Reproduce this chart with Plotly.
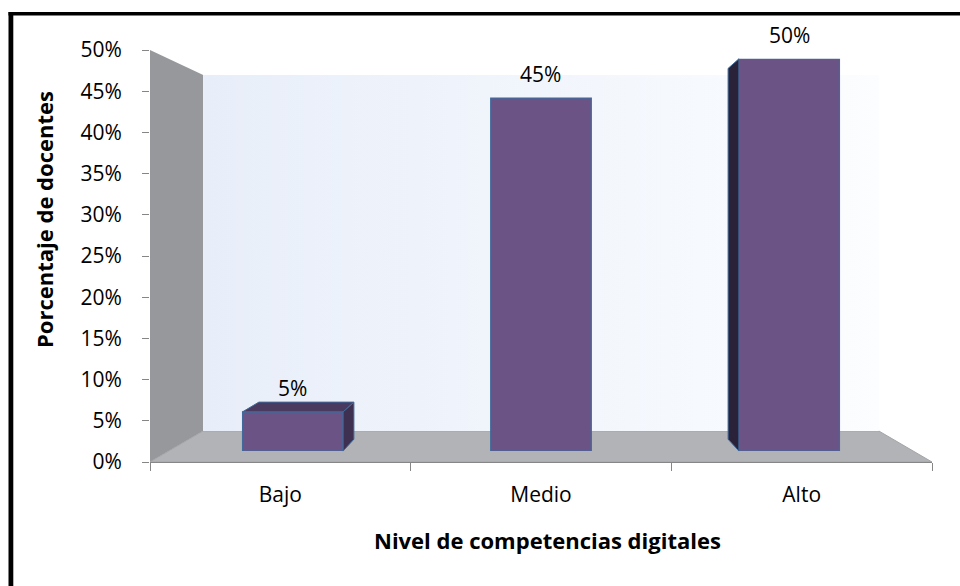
import plotly.graph_objects as go

# ---------------- data ----------------
categorias = ["Bajo", "Medio", "Alto"]
porcentajes = [5, 45, 50]
ticks_y = [0, 5, 10, 15, 20, 25, 30, 35, 40, 45, 50]
etiquetas_y = [f"{v}%" for v in ticks_y]
titulo_x = "Nivel de competencias digitales"
titulo_y = "Porcentaje de docentes"

# ---------------- geometry (pseudo-3D projection) ----------------
W, H = 960, 586
FX0, FX1 = 150, 932          # front plane x extent (px)
FY0, FY50 = 462, 50          # front plane y of 0% and 50% (px)
YMAX = 50
NCAT = len(categorias)
VP = (541, 234)              # vanishing point
K_BAR_FRONT = 0.048
K_BAR_BACK = 0.10
K_WALL = 0.136
BAR_W = 0.405
FONT = "Open Sans"


def front_px(xv, yv):
    px = FX0 + (xv + 0.5) / NCAT * (FX1 - FX0)
    py = FY0 - yv / YMAX * (FY0 - FY50)
    return px, py


def proj(px, py, k):
    return px + k * (VP[0] - px), py + k * (VP[1] - py)


def P(xv, yv, k):
    return proj(*front_px(xv, yv), k)


def to_paper(pt):
    return pt[0] / W, 1 - pt[1] / H


def to_main(pt):
    px, py = pt
    return (px - FX0) / (FX1 - FX0) * NCAT - 0.5, (FY0 - py) / (FY0 - FY50) * YMAX


def path_paper(pts):
    s = ""
    for i, p in enumerate(pts):
        x, y = to_paper(p)
        s += ("M" if i == 0 else "L") + f"{x:.5f},{y:.5f} "
    return s + "Z"


fig = go.Figure()

# back wall (gradient) on main axes
wall = [P(-0.5, 0, K_WALL), P(NCAT - 0.5, 0, K_WALL), P(NCAT - 0.5, YMAX, K_WALL), P(-0.5, YMAX, K_WALL)]
wx = [to_main(p)[0] for p in wall] + [to_main(wall[0])[0]]
wy = [to_main(p)[1] for p in wall] + [to_main(wall[0])[1]]
fig.add_trace(go.Scatter(
    x=wx, y=wy, mode="lines", fill="toself", line=dict(width=0),
    fillgradient=dict(type="horizontal", colorscale=[[0, "#e8eef9"], [1, "#fbfdff"]]),
    hoverinfo="skip", showlegend=False, xaxis="x", yaxis="y"))

# bars (front faces) on the bar plane axes
fig.add_trace(go.Bar(
    x=list(range(NCAT)), y=porcentajes, width=BAR_W,
    marker=dict(color="#6b5485", line=dict(color="#41699b", width=1.3)),
    hoverinfo="skip", showlegend=False, xaxis="x2", yaxis="y2"))

shapes = []
# left wall
shapes.append(dict(type="path", xref="paper", yref="paper", layer="below",
                   path=path_paper([P(-0.5, 0, 0), P(-0.5, YMAX, 0), P(-0.5, YMAX, K_WALL), P(-0.5, 0, K_WALL)]),
                   fillcolor="#97989c", line=dict(width=0)))
# floor
shapes.append(dict(type="path", xref="paper", yref="paper", layer="below",
                   path=path_paper([P(-0.5, 0, 0), P(NCAT - 0.5, 0, 0), P(NCAT - 0.5, 0, K_WALL), P(-0.5, 0, K_WALL)]),
                   fillcolor="#b1b3b6", line=dict(color="#a3a5a8", width=1)))

# bar side / top faces
for i, v in enumerate(porcentajes):
    xl, xr = i - BAR_W / 2, i + BAR_W / 2
    cx = front_px(i, 0)[0]
    if cx < VP[0] - 20:
        xs, col = xr, "#3e3050"
    elif cx > VP[0] + 20:
        xs, col = xl, "#2a2238"
    else:
        xs = None
    if xs is not None:
        shapes.append(dict(type="path", xref="paper", yref="paper", layer="above",
                           path=path_paper([P(xs, v, K_BAR_FRONT), P(xs, v, K_BAR_BACK),
                                            P(xs, 0, K_BAR_BACK), P(xs, 0, K_BAR_FRONT)]),
                           fillcolor=col, line=dict(color="#41699b", width=1)))
    if front_px(i, v)[1] > VP[1]:
        shapes.append(dict(type="path", xref="paper", yref="paper", layer="above",
                           path=path_paper([P(xl, v, K_BAR_FRONT), P(xr, v, K_BAR_FRONT),
                                            P(xr, v, K_BAR_BACK), P(xl, v, K_BAR_BACK)]),
                           fillcolor="#4a3a5f", line=dict(color="#41699b", width=1)))

# outer border (top and left)
shapes.append(dict(type="rect", xref="paper", yref="paper", x0=8.5 / W, x1=13.3 / W, y0=0, y1=1 - 12 / H,
                   fillcolor="black", line=dict(width=0), layer="above"))
shapes.append(dict(type="rect", xref="paper", yref="paper", x0=8.5 / W, x1=1, y0=1 - 15.5 / H, y1=1 - 12 / H,
                   fillcolor="black", line=dict(width=0), layer="above"))

annotations = []
for i, v in enumerate(porcentajes):
    annotations.append(dict(xref="x2", yref="y2", x=i, y=v, text=f"{v}%", showarrow=False,
                            yshift=24, yanchor="middle", font=dict(family=FONT, size=21, color="black")))
annotations.append(dict(xref="paper", yref="paper", x=547 / W, y=1 - 540 / H, text=f"<b>{titulo_x}</b>",
                        showarrow=False, xanchor="center", yanchor="middle",
                        font=dict(family=FONT, size=22, color="black")))
annotations.append(dict(xref="paper", yref="paper", x=44 / W, y=1 - 220 / H, text=f"<b>{titulo_y}</b>",
                        showarrow=False, textangle=-90, xanchor="center", yanchor="middle",
                        font=dict(family=FONT, size=22, color="black")))

b0 = P(-0.5, 0, K_BAR_FRONT)
b1 = P(NCAT - 0.5, YMAX, K_BAR_FRONT)

fig.update_layout(
    width=W, height=H, margin=dict(l=0, r=0, t=0, b=0, pad=0, autoexpand=False),
    paper_bgcolor="white", plot_bgcolor="rgba(0,0,0,0)",
    showlegend=False, hovermode=False,
    font=dict(family=FONT, color="black"),
    shapes=shapes, annotations=annotations,
    xaxis=dict(domain=[FX0 / W, FX1 / W], range=[-0.5, NCAT - 0.5], anchor="y", automargin=False,
               tickmode="array", tickvals=list(range(NCAT)), ticktext=categorias, ticks="",
               showline=True, linecolor="#868686", linewidth=1, showgrid=False, zeroline=False,
               minor=dict(ticks="outside", tickvals=[k - 0.5 for k in range(NCAT + 1)],
                          ticklen=8, tickcolor="#868686", tickwidth=1, showgrid=False),
               tickfont=dict(family=FONT, size=21, color="black"), ticklabelstandoff=14),
    yaxis=dict(domain=[1 - FY0 / H, 1 - FY50 / H], range=[0, YMAX], anchor="x", automargin=False,
               tickmode="array", tickvals=ticks_y, ticktext=etiquetas_y,
               ticks="outside", ticklen=7, tickcolor="#868686", tickwidth=1,
               showline=False, showgrid=False, zeroline=False,
               tickfont=dict(family=FONT, size=21, color="black"), ticklabelstandoff=16),
    xaxis2=dict(domain=[b0[0] / W, b1[0] / W], range=[-0.5, NCAT - 0.5], anchor="y2", visible=False),
    yaxis2=dict(domain=[1 - b0[1] / H, 1 - b1[1] / H], range=[0, YMAX], anchor="x2", visible=False),
)

fig.write_html("out.html")
